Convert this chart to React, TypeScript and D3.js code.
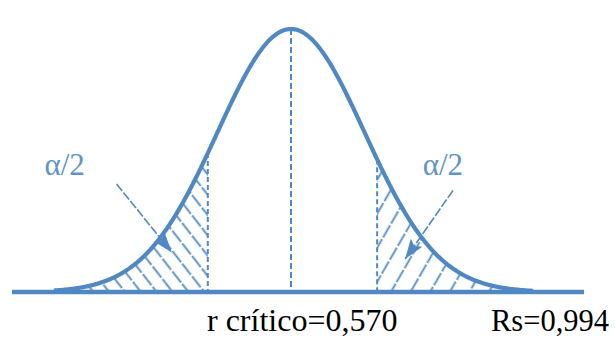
import React, { useEffect, useRef } from 'react';
import * as d3 from 'd3';

// standardised axis for the bell curve
const zDomain = [-3.79, 3.98];
const curveRange = [-3.22, 3.29];
const criticalZ = [-1.13, 1.17];
const tailLabels = ['α/2', 'α/2'];
const footLabels = ['r crítico=0,570', 'Rs=0,994'];

const W = 615;
const H = 340;
const BLUE = '#4f88c2';
const SERIF = "'Liberation Serif', 'Times New Roman', Tinos, 'DejaVu Serif', serif";

const pdf = (z: number) => Math.exp(-z * z / 2) / Math.sqrt(2 * Math.PI);

const App = () => {
  const svgRef = useRef<SVGSVGElement>(null);

  useEffect(() => {
    const svg = d3.select(svgRef.current);
    svg.selectAll('*').remove();

    const x = d3.scaleLinear().domain(zDomain).range([12, 584]);
    const y = d3.scaleLinear().domain([0, pdf(0)]).range([292, 29]);

    const defs = svg.append('defs');

    // hatch patterns: left "\" and right "/"
    const hatch = (id: string, gap: number, angle: number) => {
      const p = defs.append('pattern')
        .attr('id', id)
        .attr('patternUnits', 'userSpaceOnUse')
        .attr('width', gap)
        .attr('height', 48)
        .attr('patternTransform', `rotate(${angle})`);
      p.append('line')
        .attr('x1', gap / 2).attr('x2', gap / 2)
        .attr('y1', 0).attr('y2', 48)
        .attr('stroke', BLUE)
        .attr('stroke-width', 1.8)
        .attr('stroke-dasharray', '14 2');
    };
    hatch('hatchL', 12.5, -38);
    hatch('hatchR', 17, 30);

    const area = d3.area<number>()
      .x(d => x(d))
      .y0(y(0))
      .y1(d => y(pdf(d)));

    const leftTail = d3.range(curveRange[0], criticalZ[0], 0.02).concat([criticalZ[0]]);
    const rightTail = [criticalZ[1]].concat(d3.range(criticalZ[1] + 0.02, curveRange[1], 0.02), [curveRange[1]]);

    svg.append('path').datum(leftTail).attr('d', area).attr('fill', 'url(#hatchL)');
    svg.append('path').datum(rightTail).attr('d', area).attr('fill', 'url(#hatchR)');

    // dashed verticals: centre and critical values
    svg.append('line')
      .attr('x1', x(0)).attr('x2', x(0))
      .attr('y1', y(pdf(0))).attr('y2', y(0))
      .attr('stroke', BLUE).attr('stroke-width', 2)
      .attr('stroke-dasharray', '6 3');

    criticalZ.forEach(z => {
      svg.append('line')
        .attr('x1', x(z)).attr('x2', x(z))
        .attr('y1', y(pdf(z))).attr('y2', y(0))
        .attr('stroke', BLUE).attr('stroke-width', 2)
        .attr('stroke-dasharray', '5 3');
    });

    // baseline
    svg.append('line')
      .attr('x1', x(zDomain[0])).attr('x2', x(zDomain[1]))
      .attr('y1', y(0)).attr('y2', y(0))
      .attr('stroke', BLUE).attr('stroke-width', 4.5);

    // curve
    const pts = d3.range(curveRange[0], curveRange[1], 0.01).concat([curveRange[1]]);
    svg.append('path')
      .datum(pts)
      .attr('d', d3.line<number>().x(d => x(d)).y(d => y(pdf(d))))
      .attr('fill', 'none')
      .attr('stroke', BLUE)
      .attr('stroke-width', 4.2);

    // arrows pointing into the tails
    const arrows = [
      { from: [-2.37, 0.164], to: [-1.62, 0.06] },
      { from: [2.2, 0.154], to: [1.55, 0.05] },
    ];
    arrows.forEach(a => {
      svg.append('line')
        .attr('x1', x(a.from[0])).attr('y1', y(a.from[1]))
        .attr('x2', x(a.to[0])).attr('y2', y(a.to[1]))
        .attr('stroke', BLUE).attr('stroke-width', 1.6)
        .attr('stroke-dasharray', '9 2');
      const ang = Math.atan2(y(a.to[1]) - y(a.from[1]), x(a.to[0]) - x(a.from[0]));
      const tx = x(a.to[0]), ty = y(a.to[1]);
      const len = 20, half = 7;
      const bx = tx - len * Math.cos(ang), by = ty - len * Math.sin(ang);
      svg.append('path')
        .attr('d', `M${tx},${ty} L${bx - half * Math.sin(ang)},${by + half * Math.cos(ang)} L${bx + 4 * Math.cos(ang)},${by + 4 * Math.sin(ang)} L${bx + half * Math.sin(ang)},${by - half * Math.cos(ang)} Z`)
        .attr('fill', BLUE);
    });

    // tail labels
    const labelZ = [-3.35, 1.79];
    tailLabels.forEach((t, i) => {
      svg.append('text')
        .attr('x', x(labelZ[i]))
        .attr('y', 175)
        .style('font-family', SERIF)
        .style('font-size', '31px')
        .attr('fill', '#6094c8')
        .text(t);
    });

    // footer
    const footX = [207, 491];
    const footSize = [32, 30.5];
    footLabels.forEach((t, i) => {
      svg.append('text')
        .attr('x', footX[i]).attr('y', 331)
        .style('font-family', SERIF)
        .style('font-size', `${footSize[i]}px`)
        .attr('fill', '#000')
        .text(t);
    });
  }, []);

  return (
    <svg
      ref={svgRef}
      width={W}
      height={H}
      style={{ position: 'absolute', left: 0, top: 0, background: '#fff' }}
    />
  );
};

export default App;
